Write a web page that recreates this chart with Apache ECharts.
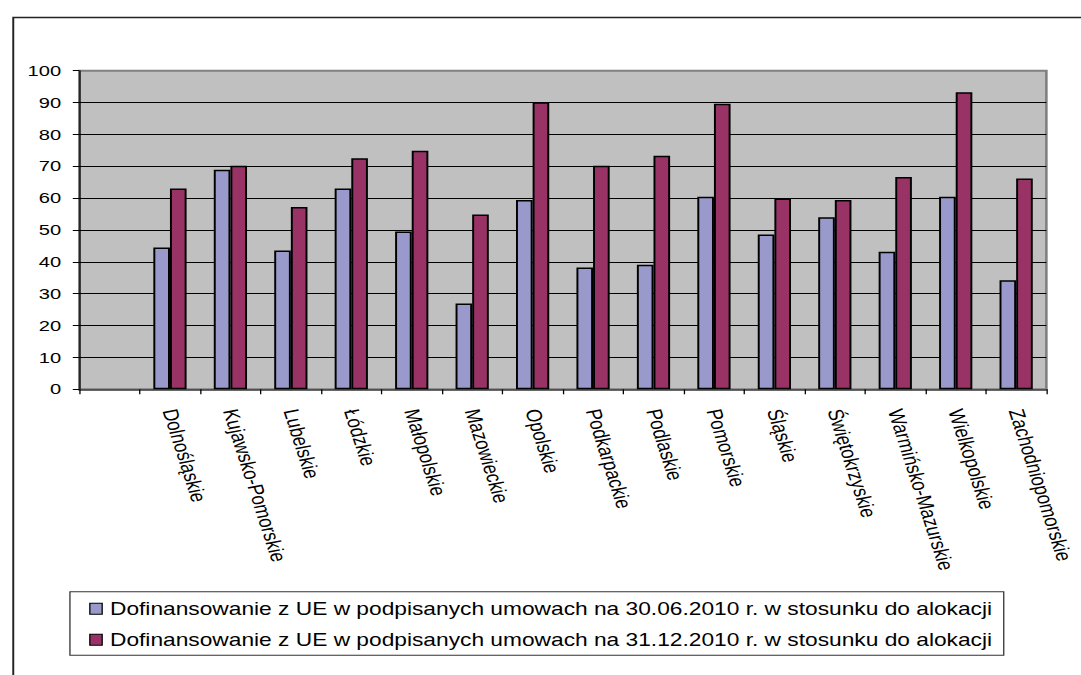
<!DOCTYPE html>
<html>
<head>
<meta charset="utf-8">
<script src="https://cdn.jsdelivr.net/npm/echarts@6/dist/echarts.min.js"></script>
<style>
  html, body { margin: 0; padding: 0; background: #ffffff; overflow: hidden; width: 1081px; height: 675px; }
  #chart { position: absolute; left: 0; top: 0; width: 831.54px; height: 675px; transform: scaleX(1.3); transform-origin: 0 0; }
</style>
</head>
<body>
<div id="chart"></div>
<script>
// Data
var categories = ['', 'Dolnośląskie', 'Kujawsko-Pomorskie', 'Lubelskie', 'Łódzkie', 'Małopolskie', 'Mazowieckie', 'Opolskie', 'Podkarpackie', 'Podlaskie', 'Pomorskie', 'Śląskie', 'Świętokrzyskie', 'Warmińsko-Mazurskie', 'Wielkopolskie', 'Zachodniopomorskie'];
var seriesJune = [null, 44.5, 68.9, 43.6, 63.0, 49.5, 26.9, 59.4, 38.2, 39.1, 60.4, 48.6, 54.0, 43.2, 60.4, 34.2];
var seriesDec = [null, 63.0, 70.2, 57.2, 72.5, 74.9, 54.9, 90.1, 70.2, 73.3, 89.6, 59.9, 59.4, 66.6, 93.2, 66.2];
var seriesNames = [
  'Dofinansowanie z UE w podpisanych umowach na 30.06.2010 r. w stosunku do alokacji',
  'Dofinansowanie z UE w podpisanych umowach na 31.12.2010 r. w stosunku do alokacji'
];
var yMin = 0, yMax = 100, yStep = 10;

var FONT = '"Liberation Sans", Arial, sans-serif';
var chart = echarts.init(document.getElementById('chart'), null, { renderer: 'svg' });

chart.setOption({
  animation: false,
  backgroundColor: '#ffffff',
  textStyle: { fontFamily: FONT, color: '#000' },
  graphic: [{
    type: 'rect',
    left: 7.7, top: 15,
    shape: { x: 0, y: 0, width: 2000, height: 2000 },
    style: { fill: 'none', stroke: '#222', lineWidth: 1.5 },
    silent: true, z: -10
  }],
  grid: {
    left: 61, right: 27.1, top: 70.7, bottom: 285.7,
    show: true,
    backgroundColor: '#C0C0C0',
    borderColor: '#808080',
    borderWidth: 2
  },
  legend: {
    orient: 'vertical',
    left: 53.8, top: 591.7,
    padding: [7, 8.5, 5.5, 14.8],
    itemGap: 11,
    itemWidth: 9.5, itemHeight: 11,
    icon: 'rect',
    backgroundColor: '#ffffff',
    borderColor: '#333',
    borderWidth: 1,
    textStyle: { fontFamily: FONT, fontSize: 17.5, lineHeight: 20, color: '#000', padding: [0, 0, 0, 1] },
    itemStyle: { borderColor: '#000', borderWidth: 1 },
    data: seriesNames
  },
  xAxis: {
    type: 'category',
    data: categories,
    axisLine: { show: true, lineStyle: { color: '#404040', width: 1.5 } },
    axisTick: { show: true, alignWithLabel: false, length: 5, lineStyle: { color: '#000' } },
    axisLabel: { interval: 0, rotate: -76, margin: 20, fontSize: 16.8, fontFamily: FONT, color: '#000' },
    splitLine: { show: false }
  },
  yAxis: {
    type: 'value',
    min: yMin, max: yMax, interval: yStep,
    axisLine: { show: true, lineStyle: { color: '#000', width: 1 } },
    axisTick: { show: true, length: 5, lineStyle: { color: '#000' } },
    axisLabel: { margin: 14, fontSize: 15.5, fontFamily: FONT, color: '#000' },
    splitLine: { show: true, showMinLine: false, showMaxLine: false, lineStyle: { color: '#000', width: 1 } }
  },
  series: [{
    name: seriesNames[0],
    type: 'bar',
    data: seriesJune,
    barGap: '0%',
    barCategoryGap: '45%',
    itemStyle: { color: '#9999CC', borderColor: '#000', borderWidth: 1.5 }
  }, {
    name: seriesNames[1],
    type: 'bar',
    data: seriesDec,
    barGap: '0%',
    barCategoryGap: '45%',
    itemStyle: { color: '#993366', borderColor: '#000', borderWidth: 1.5 }
  }]
});
</script>
</body>
</html>
